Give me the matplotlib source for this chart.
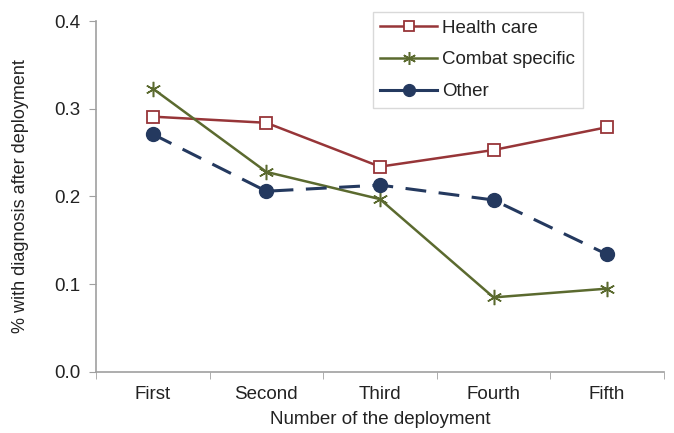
import matplotlib
matplotlib.use("Agg")
import matplotlib.pyplot as plt
import numpy as np

deployments = ["First", "Second", "Third", "Fourth", "Fifth"]
health_care = [0.291, 0.284, 0.234, 0.253, 0.279]
combat_specific = [0.323, 0.228, 0.197, 0.085, 0.095]
other = [0.271, 0.206, 0.213, 0.196, 0.134]

plt.rcParams["font.family"] = ["Liberation Sans", "DejaVu Sans"]
plt.rcParams["lines.scale_dashes"] = False

fig = plt.figure(figsize=(6.74, 4.33), dpi=100)
ax = fig.add_axes([0.1424, 0.1409, 0.8427, 0.8106])

x = np.arange(len(deployments))
ax.plot(x, health_care, color="#973538", linewidth=1.8, marker="s", markersize=9,
        markerfacecolor="white", markeredgecolor="#973538", markeredgewidth=1.3,
        label="Health care")
ax.plot(x, combat_specific, color="#5B6A2F", linewidth=1.8, marker=(6, 2, 0),
        markersize=11, markeredgecolor="#5B6A2F", markeredgewidth=1.1,
        label="Combat specific")
ax.plot(x, other, color="#24395F", linewidth=2.2, linestyle=(0, (15, 9)),
        marker="o", markersize=10, markerfacecolor="#24395F",
        markeredgecolor="#24395F", label="Other")

ax.set_xlim(-0.5, len(deployments) - 0.5)
ax.set_ylim(0, 0.4)
ax.set_yticks([0.0, 0.1, 0.2, 0.3, 0.4])
ax.set_yticklabels(["0.0", "0.1", "0.2", "0.3", "0.4"])
ax.set_xticks(x)
ax.set_xticklabels(deployments)
ax.set_xticks(np.arange(-0.5, len(deployments)), minor=True)
ax.tick_params(axis="x", which="major", length=0, pad=10, labelsize=13.5, colors="#222222")
ax.tick_params(axis="x", which="minor", length=5, color="#A0A0A0")
ax.tick_params(axis="y", length=5, color="#A0A0A0", labelsize=13.5, labelcolor="#222222", pad=6)

for side in ["top", "right"]:
    ax.spines[side].set_visible(False)
for side in ["left", "bottom"]:
    ax.spines[side].set_color("#A0A0A0")
    ax.spines[side].set_linewidth(1.2)

ax.set_xlabel("Number of the deployment", fontsize=13.5, color="#222222", labelpad=6)
ax.set_ylabel("% with diagnosis after deployment", fontsize=13, color="#222222", labelpad=18)

leg = ax.legend(loc="upper left", bbox_to_anchor=(373 / 674, 1 - 12 / 433),
                bbox_transform=fig.transFigure, fontsize=13.5, frameon=True,
                fancybox=False, handlelength=3.0, handletextpad=0.3,
                borderpad=0.4, labelspacing=0.78, borderaxespad=0,
                markerscale=0.85)
leg.get_frame().set_edgecolor("#D0D0D0")
leg.get_frame().set_linewidth(1.0)
for t in leg.get_texts():
    t.set_color("#222222")
leg.get_lines()[2].set_linestyle("-")

fig.savefig("out.png", dpi=100)
plt.close(fig)
